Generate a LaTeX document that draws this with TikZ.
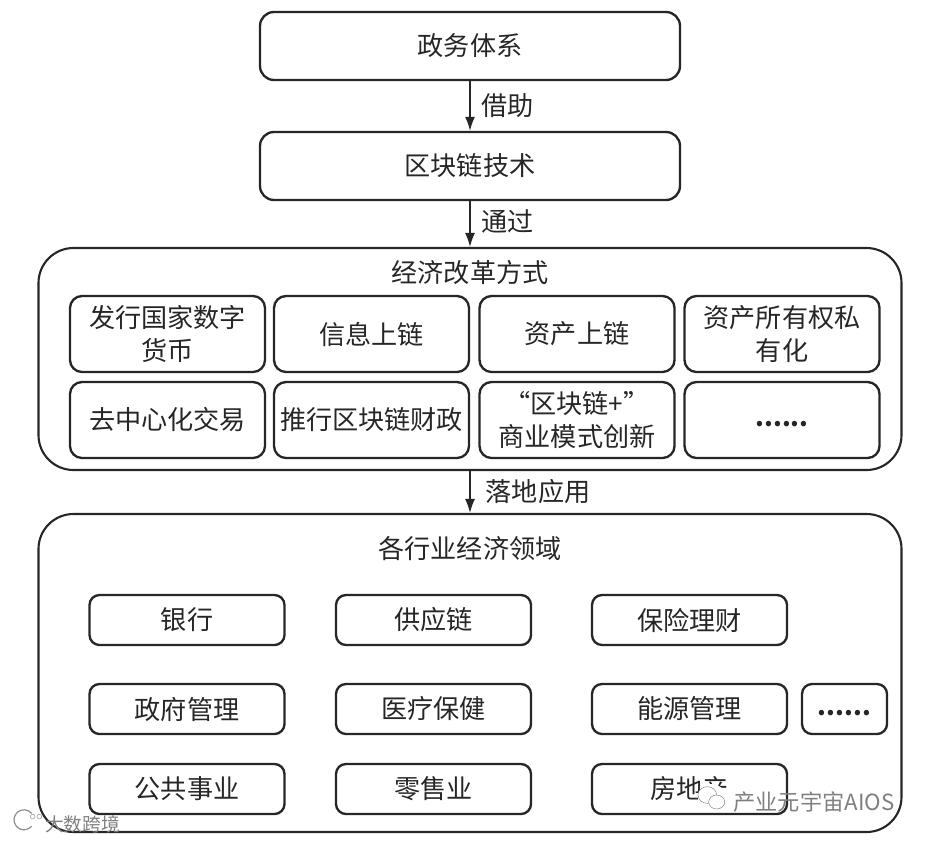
\documentclass[tikz,border=0pt]{standalone}
\usepackage{fontspec}
\setmainfont{Noto Sans CJK SC}
\usetikzlibrary{arrows.meta, calc, positioning, shapes.geometric}
\newcommand{\moredots}{\strut{\fontsize{21.5}{27}\selectfont\bfseries ......}}

\begin{document}
\begin{tikzpicture}[
  text=black!85,
  topbox/.style={draw=black!85, line width=2pt, rounded corners=0.42cm, minimum width=12.6cm,
              minimum height=2.04cm, align=center, font=\fontsize{22.3}{27}\selectfont},
  bigbox/.style={draw=black!85, line width=1.8pt, rounded corners=1.05cm, minimum width=25.89cm},
  wayitem/.style={draw=black!85, line width=2pt, rounded corners=0.36cm, minimum width=5.85cm,
              minimum height=2.28cm, align=center, inner sep=0pt, font=\fontsize{22.3}{28}\selectfont},
  fielditem/.style={draw=black!85, line width=2pt, rounded corners=0.3cm, minimum width=5.85cm,
              minimum height=1.5cm, align=center, font=\fontsize{22.3}{27}\selectfont},
  headtext/.style={font=\fontsize{22.3}{27}\selectfont},
  linktext/.style={right=0.33cm, inner sep=0pt, font=\fontsize{22.3}{27}\selectfont},
  arr/.style={-{Latex[length=0.42cm,width=0.3cm]}, line width=1.3pt, draw=black!85},
  marktext/.style={text=black!50}
]
  \useasboundingbox (0,0) rectangle (27.81,-25.26);

  \node[topbox] (gov)   at (14.1,-1.38) {政务体系};
  \node[topbox] (chain) at (14.1,-4.98) {区块链技术};

  \node[bigbox, minimum height=6.66cm] (reform) at (14.1,-10.77) {};
  \node[headtext] (reformhead) at (14.1,-8.19) {经济改革方式};
  \node[wayitem] (way1) at (5.025,-10.02)  {发行国家数字\\货币};
  \node[wayitem] (way2) at (11.145,-10.02) {信息上链};
  \node[wayitem] (way3) at (17.31,-10.02)  {资产上链};
  \node[wayitem] (way4) at (23.46,-10.02)  {资产所有权私\\有化};
  \node[wayitem] (way5) at (5.025,-12.6)   {去中心化交易};
  \node[wayitem] (way6) at (11.145,-12.6)  {推行区块链财政};
  \node[wayitem] (way7) at (17.31,-12.6)   {“区块链+”\\商业模式创新};
  \node[wayitem] (way8) at (23.46,-12.6)   {\moredots};

  \node[bigbox, minimum height=9.54cm] (fields) at (14.1,-20.19) {};
  \node[headtext] (fieldshead) at (14.1,-16.47) {各行业经济领域};
  \node[fielditem] (bank)   at (5.61,-18.6)    {银行};
  \node[fielditem] (supply) at (13.005,-18.6)  {供应链};
  \node[fielditem] (insure) at (20.685,-18.6)  {保险理财};
  \node[fielditem] (admin)  at (5.61,-21.27)   {政府管理};
  \node[fielditem] (health) at (13.005,-21.27) {医疗保健};
  \node[fielditem] (energy) at (20.685,-21.27) {能源管理};
  \node[fielditem, minimum width=2.55cm] (more) at (25.335,-21.27) {\moredots};
  \node[fielditem] (public) at (5.61,-23.67)   {公共事业};
  \node[fielditem] (retail) at (13.005,-23.67) {零售业};
  \node[fielditem] (estate) at (20.685,-23.67) {房地产};

  \draw[arr] (gov)    -- (chain)  node[midway,linktext]{借助};
  \draw[arr] (chain)  -- (reform) node[midway,linktext,yshift=0.08cm]{通过};
  \draw[arr] (reform) -- (fields) node[midway,linktext,xshift=0.12cm]{落地应用};

  \fill[white] (21.36,-23.94) ellipse (0.42cm and 0.42cm);
  \draw[black!50, fill=white] (21.22,-23.85) ellipse (0.28cm and 0.25cm);
  \draw[black!50, fill=white] (21.5,-24.06) ellipse (0.24cm and 0.21cm);
  \node[marktext, anchor=west, inner sep=0pt, font=\fontsize{19}{23}\selectfont] (mark1) at (21.99,-24.06) {产业元宇宙AIOS};
  \draw[black!45, line width=1pt] (0.95,-24.4) arc (40:320:0.3cm);
  \draw[black!45] (0.98,-24.5) circle (0.07cm) (1.18,-24.5) circle (0.07cm);
  \node[marktext, anchor=west, inner sep=0pt, font=\fontsize{16}{20}\selectfont] (mark2) at (1.35,-24.72) {大数跨境};
\end{tikzpicture}
\end{document}
